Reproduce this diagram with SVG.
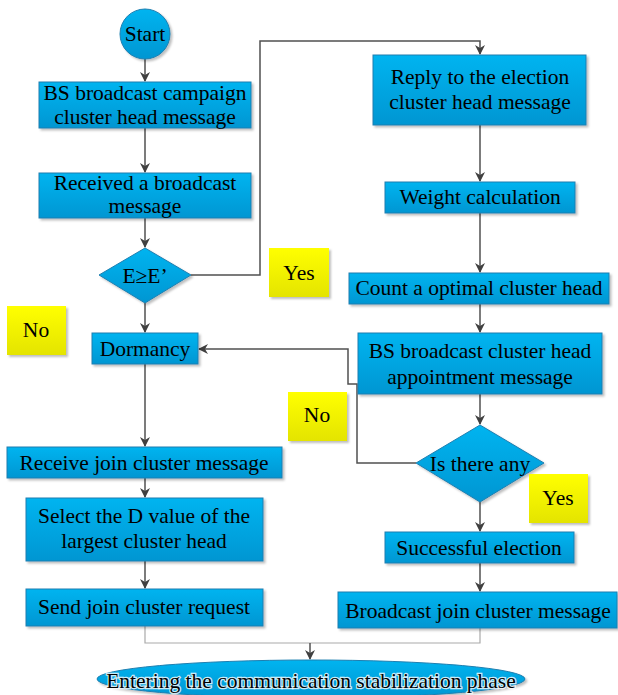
<svg xmlns="http://www.w3.org/2000/svg" width="618" height="695" viewBox="0 0 618 695">
<defs>
<linearGradient id="blue" x1="0" y1="0" x2="0" y2="1">
<stop offset="0" stop-color="#00b4f0"/><stop offset="1" stop-color="#0096d2"/>
</linearGradient>
<linearGradient id="yel" x1="0" y1="0" x2="0" y2="1">
<stop offset="0" stop-color="#ffff00"/><stop offset="1" stop-color="#e4e400"/>
</linearGradient>
<filter id="sh" x="-10%" y="-10%" width="130%" height="140%">
<feDropShadow dx="2" dy="2" stdDeviation="1" flood-color="#000" flood-opacity="0.25"/>
</filter>
<marker id="ar" markerWidth="10" markerHeight="10" refX="9" refY="5" orient="auto" markerUnits="userSpaceOnUse">
<path d="M0,0 L10,5 L0,10 L3,5 Z" fill="#404040"/>
</marker>
<style>
.n{fill:url(#blue);stroke:#1f7fb0;stroke-width:1;filter:url(#sh)}
.y{fill:url(#yel);stroke:none;filter:url(#sh)}
.t{font-family:"Liberation Serif","Times New Roman",serif;font-size:21.5px;fill:#000;text-anchor:middle}
.c{fill:none;stroke:#505050;stroke-width:1.5}
.g{fill:none;stroke:#aaaaaa;stroke-width:1.2}
</style>
</defs>
<g id="connectors">
<path class="c" d="M145,59 V81" marker-end="url(#ar)"/>
<path class="c" d="M145,128 V172" marker-end="url(#ar)"/>
<path class="c" d="M145,218 V247" marker-end="url(#ar)"/>
<path class="c" d="M145,303 V332" marker-end="url(#ar)"/>
<path class="c" d="M191,275 H260 V41 H480 V54" marker-end="url(#ar)"/>
<path class="c" d="M480,125 V181" marker-end="url(#ar)"/>
<path class="c" d="M480,213 V272" marker-end="url(#ar)"/>
<path class="c" d="M480,304 V332" marker-end="url(#ar)"/>
<path class="c" d="M480,394 V424" marker-end="url(#ar)"/>
<path class="c" d="M416,463 H357 V384 H348 V349 H199" marker-end="url(#ar)"/>
<path class="c" d="M145,364 V446" marker-end="url(#ar)"/>
<path class="c" d="M145,478 V497" marker-end="url(#ar)"/>
<path class="c" d="M145,561 V588" marker-end="url(#ar)"/>
<path class="c" d="M480,502 V531" marker-end="url(#ar)"/>
<path class="c" d="M480,563 V591" marker-end="url(#ar)"/>
<path class="g" d="M145,626 V643 H480 V628"/>
<path class="c" d="M310,643 V659" marker-end="url(#ar)"/>
</g>
<g id="start"><circle class="n" cx="145" cy="34" r="25"/><text class="t" x="145" y="41">Start</text></g>
<g id="bs-campaign"><rect class="n" x="39" y="82" width="212" height="46"/><text class="t" x="145" y="100">BS broadcast campaign</text><text class="t" x="145" y="124">cluster head message</text></g>
<g id="received"><rect class="n" x="39" y="173" width="212" height="45"/><text class="t" x="145" y="190">Received a broadcast</text><text class="t" x="145" y="213">message</text></g>
<g id="decision1"><polygon class="n" points="145,248 191,275 145,303 99,275"/><text class="t" x="145" y="283">E≥E’</text></g>
<g id="yes1"><rect class="y" x="269" y="248" width="60" height="49"/><text class="t" x="299" y="280">Yes</text></g>
<g id="no1"><rect class="y" x="7" y="306" width="59" height="49"/><text class="t" x="36" y="337">No</text></g>
<g id="dormancy"><rect class="n" x="92" y="333" width="106" height="31"/><text class="t" x="145" y="356">Dormancy</text></g>
<g id="no2"><rect class="y" x="288" y="392" width="59" height="49"/><text class="t" x="317" y="422">No</text></g>
<g id="receive-join"><rect class="n" x="7" y="447" width="275" height="31"/><text class="t" x="144" y="470">Receive join cluster message</text></g>
<g id="select"><rect class="n" x="26" y="498" width="237" height="63"/><text class="t" x="144" y="523">Select the D value of the</text><text class="t" x="144" y="548">largest cluster head</text></g>
<g id="send"><rect class="n" x="26" y="589" width="237" height="37"/><text class="t" x="144" y="614">Send join cluster request</text></g>
<g id="reply"><rect class="n" x="373" y="55" width="213" height="70"/><text class="t" x="480" y="84">Reply to the election</text><text class="t" x="480" y="109">cluster head message</text></g>
<g id="weight"><rect class="n" x="385" y="182" width="190" height="31"/><text class="t" x="480" y="204">Weight calculation</text></g>
<g id="count"><rect class="n" x="349" y="273" width="260" height="31"/><text class="t" x="479" y="295">Count a optimal cluster head</text></g>
<g id="bs-appoint"><rect class="n" x="358" y="333" width="244" height="61"/><text class="t" x="480" y="358">BS broadcast cluster head</text><text class="t" x="480" y="384">appointment message</text></g>
<g id="decision2"><polygon class="n" points="480,425 544,463 480,502 416,463"/><text class="t" x="480" y="471">Is there any</text></g>
<g id="yes2"><rect class="y" x="529" y="474" width="59" height="49"/><text class="t" x="558" y="505">Yes</text></g>
<g id="success"><rect class="n" x="385" y="532" width="189" height="31"/><text class="t" x="479" y="555">Successful election</text></g>
<g id="broadcast-join"><rect class="n" x="338" y="592" width="279" height="36"/><text class="t" x="478" y="618">Broadcast join cluster message</text></g>
<g id="end"><ellipse class="n" cx="311" cy="679" rx="214" ry="19"/><text class="t" x="311" y="688" style="stroke:#ffffff;stroke-width:2.5;paint-order:stroke;stroke-opacity:0.8">Entering the communication stabilization phase</text></g>
</svg>
